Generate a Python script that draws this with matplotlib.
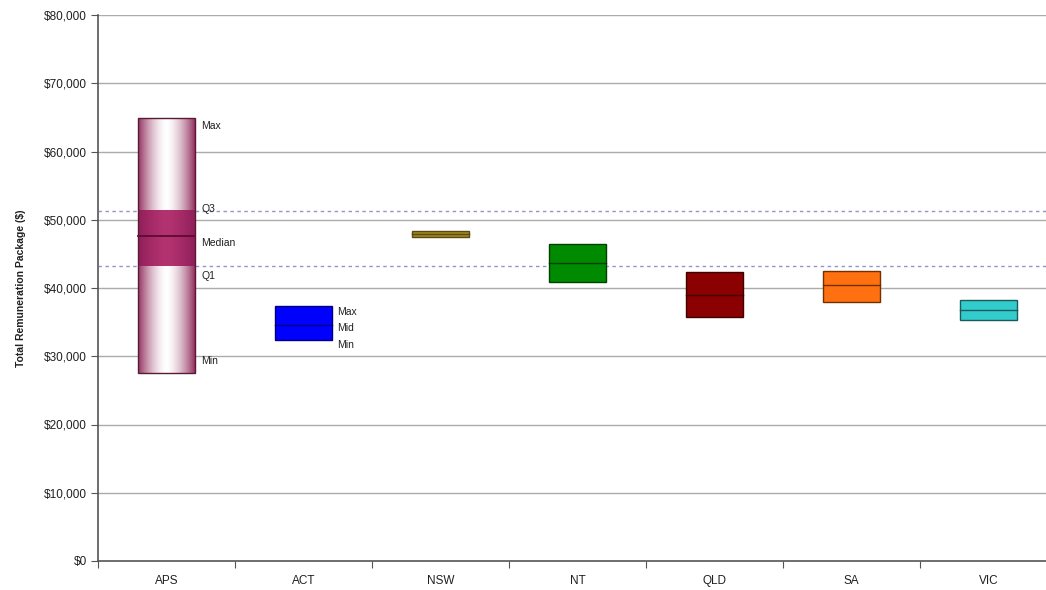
import numpy as np
import matplotlib
matplotlib.use("Agg")
import matplotlib.pyplot as plt
from matplotlib.patches import Rectangle
from matplotlib.ticker import FuncFormatter, MultipleLocator

plt.rcParams['font.family'] = ['Liberation Sans', 'DejaVu Sans']

# Categories along the x axis
categories = ['APS', 'ACT', 'NSW', 'NT', 'QLD', 'SA', 'VIC']

# APS distribution (five-number summary)
aps_min = 27600
aps_q1 = 43200
aps_median = 47600
aps_q3 = 51300
aps_max = 64900

# State ranges (min / mid / max) for ACT..VIC
state_min = [32400, 47400, 40900, 35800, 38000, 35300]
state_mid = [34600, 47900, 43600, 39000, 40500, 36800]
state_max = [37300, 48400, 46500, 42300, 42500, 38200]
state_face = ['#0000FF', '#A08A22', '#008A00', '#8B0000', '#FF7010', '#33CCCC']
state_edge = ['#000080', '#5A4A10', '#004000', '#400000', '#703000', '#1A5A5A']

W, H, DPI = 1046, 590, 100
fig = plt.figure(figsize=(W / DPI, H / DPI), dpi=DPI)
ax = fig.add_axes([98 / W, 29 / H, 959 / W, 546 / H])

bw = 0.41
xs = np.arange(len(categories)) + 0.5

# gridlines
for v in range(10000, 80001, 10000):
    ax.axhline(v, color='#ABABAB', lw=1.0, zorder=0)

# quartile reference lines
for v in (aps_q3, aps_q1):
    ax.axhline(v, color='#9494CC', lw=1.0, ls=(0, (2.5, 2.5)), zorder=1)

# APS box: shaded cylinder-like gradient
x0 = xs[0] - bw / 2
x1 = xs[0] + bw / 2
n = 200
u = np.linspace(0, 1, n)
t = np.clip(np.abs(u - 0.5) * 2, 0, 1) ** 1.6
edge_c = np.array([0.58, 0.20, 0.38])
white = np.array([1.0, 1.0, 1.0])
outer = (white[None, :] * (1 - t[:, None]) + edge_c[None, :] * t[:, None])
img = np.tile(outer[None, :, :], (2, 1, 1))
im = ax.imshow(img, extent=[x0, x1, aps_min, aps_max], aspect='auto',
               interpolation='bilinear', zorder=2)
rect = Rectangle((x0, aps_min), bw, aps_max - aps_min, transform=ax.transData,
                 facecolor='none')
im.set_clip_path(rect)

# inter-quartile band
iq_edge = np.array([0.56, 0.12, 0.35])
iq_mid = np.array([0.70, 0.20, 0.44])
t2 = np.clip(np.abs(u - 0.5) * 2, 0, 1) ** 1.4
inner = iq_mid[None, :] * (1 - t2[:, None]) + iq_edge[None, :] * t2[:, None]
img2 = np.tile(inner[None, :, :], (2, 1, 1))
ax.imshow(img2, extent=[x0, x1, aps_q1, aps_q3], aspect='auto',
          interpolation='bilinear', zorder=3)
ax.plot([x0, x1], [aps_median, aps_median], color='#5E0A32', lw=1.3, zorder=4)
ax.add_patch(Rectangle((x0, aps_min), bw, aps_max - aps_min, facecolor='none',
                       edgecolor='#5A1A35', lw=1.0, zorder=5))

aps_labels = [('Max', aps_max, -5.8), ('Q3', aps_q3, 1.4), ('Median', aps_median, -5.0),
              ('Q1', aps_q1, -7.2), ('Min', aps_min, 8.6)]
for txt, v, dy in aps_labels:
    ax.annotate(txt, xy=(x1, v), xytext=(5, dy), textcoords='offset points',
                va='center', ha='left', fontsize=7.5, color='#202020', zorder=6)

# state boxes
for i in range(len(state_min)):
    xc = xs[i + 1]
    ax.add_patch(Rectangle((xc - bw / 2, state_min[i]), bw, state_max[i] - state_min[i],
                           facecolor=state_face[i], edgecolor=state_edge[i], lw=1.0, zorder=3))
    ax.plot([xc - bw / 2, xc + bw / 2], [state_mid[i], state_mid[i]],
            color=state_edge[i], lw=1.0, zorder=4)

act_labels = [('Max', state_max[0], -3.8), ('Mid', state_mid[0], -2.2), ('Min', state_min[0], -3.4)]
for txt, v, dy in act_labels:
    ax.annotate(txt, xy=(xs[1] + bw / 2, v), xytext=(4, dy), textcoords='offset points',
                va='center', ha='left', fontsize=7.5, color='#202020', zorder=6)

ax.set_xlim(0, len(categories))
ax.set_ylim(0, 80000)
ax.yaxis.set_major_locator(MultipleLocator(10000))
ax.yaxis.set_major_formatter(FuncFormatter(lambda v, p: f"${int(v):,}"))
ax.set_xticks(np.arange(len(categories) + 1))
ax.set_xticklabels([])
ax.set_xticks(xs, minor=True)
ax.set_xticklabels(categories, minor=True)
ax.tick_params(axis='x', which='minor', length=0, pad=10, labelsize=8.5, labelcolor='#202020')
ax.tick_params(axis='x', which='major', length=5, direction='out', color='#555555')
ax.tick_params(axis='y', length=5, direction='out', color='#555555', labelsize=8.5,
               labelcolor='#202020', pad=3)

for s in ('top', 'right'):
    ax.spines[s].set_visible(False)
for s in ('left', 'bottom'):
    ax.spines[s].set_color('#555555')
    ax.spines[s].set_linewidth(1.2)

ax.set_ylabel('Total Remuneration Package ($)', fontsize=7.5, fontweight='bold',
              color='#202020', labelpad=13)

fig.savefig('out.png', dpi=DPI)
